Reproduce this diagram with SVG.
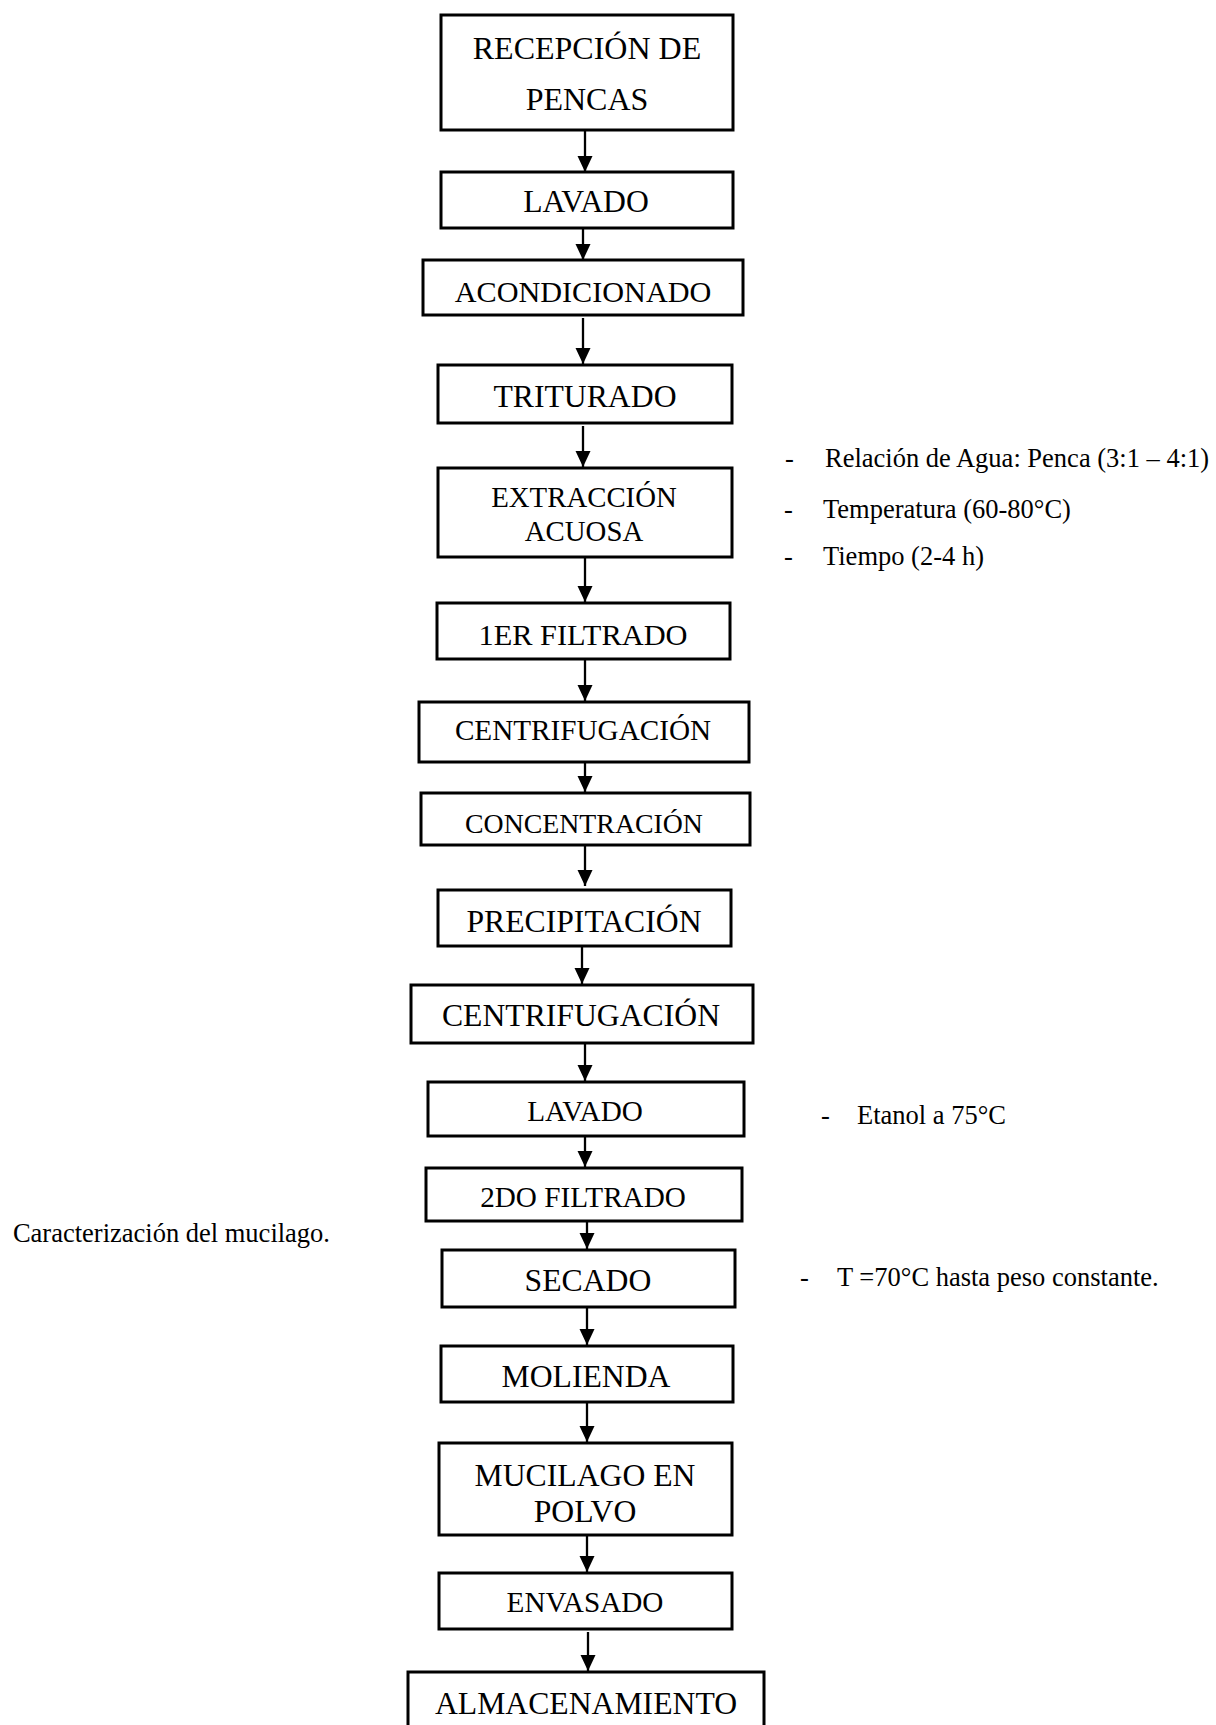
<svg xmlns="http://www.w3.org/2000/svg" width="1216" height="1725" viewBox="0 0 1216 1725">
  <style>
    .box { fill: #ffffff; stroke: #000000; stroke-width: 3; }
    .lbl { font-family: "Liberation Serif", "Times New Roman", serif; fill: #000000; text-anchor: middle; }
    .t32 { font-size: 31.7px; }
    .t29 { font-size: 29.2px; }
    .note { font-family: "Liberation Serif", "Times New Roman", serif; font-size: 26.5px; fill: #000000; }
    .flow { stroke: #000000; stroke-width: 2.3; fill: none; marker-end: url(#head); }
  </style>
  <defs>
    <marker id="head" markerUnits="userSpaceOnUse" markerWidth="16" markerHeight="16" refX="16" refY="7.5" orient="auto">
      <path d="M0,0 L16,7.5 L0,15 Z" fill="#000000"/>
    </marker>
  </defs>
  <rect width="1216" height="1725" fill="#ffffff"/>

  <!-- connectors between process steps -->
  <g id="connectors">
    <line class="flow" x1="585" y1="130" x2="585" y2="172"/>
    <line class="flow" x1="583" y1="222" x2="583" y2="260"/>
    <line class="flow" x1="583" y1="318" x2="583" y2="364"/>
    <line class="flow" x1="583" y1="426" x2="583" y2="467"/>
    <line class="flow" x1="585" y1="557" x2="585" y2="602"/>
    <line class="flow" x1="585" y1="659" x2="585" y2="701"/>
    <line class="flow" x1="585" y1="755" x2="585" y2="792"/>
    <line class="flow" x1="585" y1="845" x2="585" y2="886"/>
    <line class="flow" x1="582" y1="946" x2="582" y2="984"/>
    <line class="flow" x1="585" y1="1043" x2="585" y2="1081"/>
    <line class="flow" x1="585" y1="1130" x2="585" y2="1167"/>
    <line class="flow" x1="587" y1="1221" x2="587" y2="1249"/>
    <line class="flow" x1="587" y1="1307" x2="587" y2="1345"/>
    <line class="flow" x1="587" y1="1402" x2="587" y2="1442"/>
    <line class="flow" x1="587" y1="1535" x2="587" y2="1572"/>
    <line class="flow" x1="588" y1="1632" x2="588" y2="1671"/>
  </g>

  <!-- process steps -->
  <g id="recepcion">
    <rect class="box" x="441" y="15" width="292" height="115"/>
    <text class="lbl" x="587" y="59" font-size="32px">RECEPCIÓN DE</text>
    <text class="lbl" x="587" y="110" font-size="32px">PENCAS</text>
  </g>
  <g id="lavado">
    <rect class="box" x="441" y="172" width="292" height="56"/>
    <text class="lbl t32" x="586" y="212">LAVADO</text>
  </g>
  <g id="acondicionado">
    <rect class="box" x="423" y="260" width="320" height="55"/>
    <text class="lbl" x="583" y="302" font-size="30.2px">ACONDICIONADO</text>
  </g>
  <g id="triturado">
    <rect class="box" x="438" y="365" width="294" height="58"/>
    <text class="lbl t32" x="585" y="407">TRITURADO</text>
  </g>
  <g id="extraccion">
    <rect class="box" x="438" y="468" width="294" height="89"/>
    <text class="lbl" x="584" y="507" font-size="28.8px">EXTRACCIÓN</text>
    <text class="lbl" x="584" y="541" font-size="28.8px">ACUOSA</text>
  </g>
  <g id="filtrado1">
    <rect class="box" x="437" y="603" width="293" height="56"/>
    <text class="lbl" x="583" y="645" font-size="30.4px">1ER FILTRADO</text>
  </g>
  <g id="centrifugacion1">
    <rect class="box" x="419" y="702" width="330" height="60"/>
    <text class="lbl t29" x="583" y="740">CENTRIFUGACIÓN</text>
  </g>
  <g id="concentracion">
    <rect class="box" x="421" y="793" width="329" height="52"/>
    <text class="lbl" x="584" y="833" font-size="27.8px">CONCENTRACIÓN</text>
  </g>
  <g id="precipitacion">
    <rect class="box" x="438" y="890" width="293" height="56"/>
    <text class="lbl t32" x="584" y="932">PRECIPITACIÓN</text>
  </g>
  <g id="centrifugacion2">
    <rect class="box" x="411" y="985" width="342" height="58"/>
    <text class="lbl t32" x="581" y="1026">CENTRIFUGACIÓN</text>
  </g>
  <g id="lavado2">
    <rect class="box" x="428" y="1082" width="316" height="54"/>
    <text class="lbl t29" x="585" y="1121">LAVADO</text>
  </g>
  <g id="filtrado2">
    <rect class="box" x="426" y="1168" width="316" height="53"/>
    <text class="lbl t29" x="583" y="1207">2DO FILTRADO</text>
  </g>
  <g id="secado">
    <rect class="box" x="442" y="1250" width="293" height="57"/>
    <text class="lbl t32" x="588" y="1291">SECADO</text>
  </g>
  <g id="molienda">
    <rect class="box" x="441" y="1346" width="292" height="56"/>
    <text class="lbl t32" x="586" y="1387">MOLIENDA</text>
  </g>
  <g id="mucilago">
    <rect class="box" x="439" y="1443" width="293" height="92"/>
    <text class="lbl t32" x="585" y="1486">MUCILAGO EN</text>
    <text class="lbl t32" x="585" y="1522">POLVO</text>
  </g>
  <g id="envasado">
    <rect class="box" x="439" y="1573" width="293" height="56"/>
    <text class="lbl t29" x="585" y="1612">ENVASADO</text>
  </g>
  <g id="almacenamiento">
    <rect class="box" x="408" y="1672" width="356" height="70"/>
    <text class="lbl t32" x="586" y="1714">ALMACENAMIENTO</text>
  </g>

  <!-- extraction conditions -->
  <g id="condiciones-extraccion">
    <text class="note" x="785" y="467">-</text>
    <text class="note" x="825" y="467">Relación de Agua: Penca (3:1 – 4:1)</text>
    <text class="note" x="784" y="518">-</text>
    <text class="note" x="823" y="518">Temperatura (60-80°C)</text>
    <text class="note" x="784" y="565">-</text>
    <text class="note" x="823" y="565">Tiempo (2-4 h)</text>
  </g>
  <!-- washing condition -->
  <g id="condicion-lavado">
    <text class="note" x="821" y="1124">-</text>
    <text class="note" x="857" y="1124">Etanol a 75°C</text>
  </g>
  <!-- drying condition -->
  <g id="condicion-secado">
    <text class="note" x="800" y="1286">-</text>
    <text class="note" x="837" y="1286">T =70°C hasta peso constante.</text>
  </g>
  <!-- side caption -->
  <g id="caracterizacion">
    <text class="note" x="330" y="1242" text-anchor="end">Caracterización del mucilago.</text>
  </g>
</svg>
